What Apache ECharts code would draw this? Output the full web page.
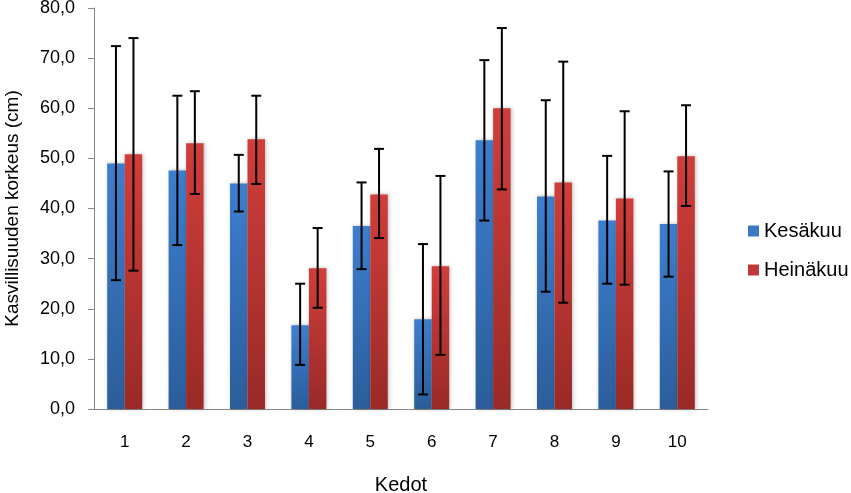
<!DOCTYPE html>
<html><head><meta charset="utf-8">
<script src="https://cdn.jsdelivr.net/npm/echarts@6/dist/echarts.min.js"></script>
<style>html,body{margin:0;padding:0;background:#fff}#c{width:851px;height:493px}</style>
</head><body><div id="c"></div>
<script>
const categories = ['1','2','3','4','5','6','7','8','9','10'];
const kesakuu = [49.0, 47.6, 45.0, 16.7, 36.5, 17.9, 53.6, 42.4, 37.6, 36.9];
const kesakuuLow = [25.7, 32.7, 39.4, 8.8, 27.9, 2.9, 37.6, 23.4, 25.0, 26.4];
const kesakuuHigh = [72.4, 62.5, 50.7, 25.0, 45.2, 32.9, 69.6, 61.6, 50.5, 47.4];
const heinakuu = [50.8, 53.0, 53.8, 28.1, 42.8, 28.5, 60.0, 45.2, 42.0, 50.4];
const heinakuuLow = [27.6, 42.9, 44.9, 20.2, 34.1, 10.8, 43.8, 21.2, 24.8, 40.5];
const heinakuuHigh = [74.0, 63.4, 62.5, 36.1, 51.9, 46.5, 76.0, 69.3, 59.4, 60.6];

const GAP = 0.43;
function errData(lo, hi){ return categories.map((c,i)=>[i, lo[i], hi[i]]); }
function errSeries(lo, hi, side){
  return {
    type:'custom', z:10,
    data: errData(lo, hi),
    renderItem: function(params, api){
      const i = api.value(0);
      const pLo = api.coord([i, api.value(1)]);
      const pHi = api.coord([i, api.value(2)]);
      const bw = api.size([1,0])[0]*(1-GAP)/2;
      const x = pLo[0] + side*bw/2;
      const cap = 5;
      const st = {stroke:'#000', lineWidth:2};
      return {type:'group', children:[
        {type:'line', shape:{x1:x,y1:pHi[1],x2:x,y2:pLo[1]}, style:st},
        {type:'line', shape:{x1:x-cap,y1:pHi[1],x2:x+cap,y2:pHi[1]}, style:st},
        {type:'line', shape:{x1:x-cap,y1:pLo[1],x2:x+cap,y2:pLo[1]}, style:st}
      ]};
    }
  };
}
const blueGrad = new echarts.graphic.LinearGradient(0,0,0,1,[{offset:0,color:'#3d7fce'},{offset:1,color:'#2b5d9a'}]);
const redGrad = new echarts.graphic.LinearGradient(0,0,0,1,[{offset:0,color:'#d03e3b'},{offset:1,color:'#992a27'}]);
const font = 'Liberation Sans, Arial, sans-serif';
const chart = echarts.init(document.getElementById('c'));
chart.setOption({
  animation:false,
  grid:{left:94, right:143, top:8, bottom:84, containLabel:false, outerBoundsMode:'none'},
  legend:{
    orient:'vertical', left:743, top:216, itemWidth:11, itemHeight:11, itemGap:19, icon:'rect',
    textStyle:{fontFamily:font, fontSize:20, color:'#000'},
    data:[{name:'Kesäkuu', itemStyle:{color:'#3a78c4'}},{name:'Heinäkuu', itemStyle:{color:'#c0393a'}}]
  },
  xAxis:{
    type:'category', data:categories, boundaryGap:true,
    name:'Kedot', nameLocation:'middle', nameGap:66,
    nameTextStyle:{fontFamily:font, fontSize:20, color:'#000'},
    axisLine:{lineStyle:{color:'#888', width:1}},
    axisTick:{alignWithLabel:false, length:6, lineStyle:{color:'#888'}},
    axisLabel:{fontFamily:font, fontSize:17, color:'#000', margin:25}
  },
  yAxis:{
    type:'value', min:0, max:80, interval:10,
    name:'Kasvillisuuden korkeus (cm)', nameLocation:'middle', nameGap:72,
    nameTextStyle:{fontFamily:font, fontSize:19, color:'#000'},
    axisLine:{show:true, lineStyle:{color:'#888', width:1}},
    axisTick:{show:true, length:6, lineStyle:{color:'#888'}},
    splitLine:{show:false},
    axisLabel:{fontFamily:font, fontSize:18, color:'#000', margin:19,
      formatter:v=>v.toFixed(1).replace('.', ',')}
  },
  series:[
    {name:'Kesäkuu', type:'bar', data:kesakuu, barGap:'0%', barCategoryGap:(GAP*100)+'%',
     itemStyle:{color:blueGrad, shadowColor:'rgba(0,0,0,0.25)', shadowBlur:4, shadowOffsetX:1}},
    {name:'Heinäkuu', type:'bar', data:heinakuu, barGap:'0%', barCategoryGap:(GAP*100)+'%',
     itemStyle:{color:redGrad, shadowColor:'rgba(0,0,0,0.25)', shadowBlur:4, shadowOffsetX:1}},
    errSeries(kesakuuLow, kesakuuHigh, -1),
    errSeries(heinakuuLow, heinakuuHigh, 1)
  ]
});
</script></body></html>
